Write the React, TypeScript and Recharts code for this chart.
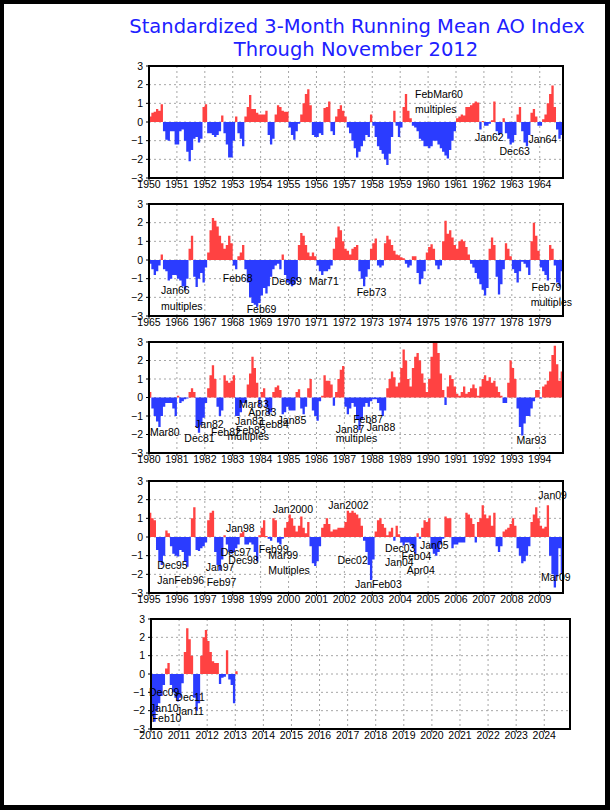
import React from 'react';
import { ComposedChart, Area, XAxis, YAxis, CartesianGrid, ReferenceArea, ReferenceDot } from 'recharts';

// Standardized 3-month running mean AO index, one value per month (Jan..Dec)
const ao1950to1964 = [
  0.3, 0.5, 0.55, 0.7, 0.6, 0.95, -0.5, -0.95, -1.0, -0.5, -0.5, -1.2,
  -1.2, -0.5, -0.4, -1.0, -1.6, -2.1, -1.5, -0.9, -0.8, -1.1, -0.9, 0.8,
  0.95, -0.6, -0.6, -0.7, -0.8, -0.7, -0.5, 0.35, -0.6, -1.2, -1.9, -1.9,
  -1.0, 0.3, -0.6, -0.9, -1.3, 0.3, 0.8, 1.45, 0.7, 0.7, 0.5, 0.4,
  0.4, 0.4, 0.6, -0.7, -1.2, -0.9, 0.4, 0.9, 0.8, 0.6, 0.55, 0.55,
  -0.3, -0.7, -0.95, -0.5, -0.1, 0.4, 1.0, 1.5, 1.75, 0.9, -0.7, -0.8,
  -0.8, -0.6, -0.7, 0.75, 0.8, 1.1, -0.5, -0.7, 0.3, 0.7, 0.9, 0.6,
  0.3, -0.3, -0.6, -1.0, -1.4, -1.9, -1.6, -1.3, -1.0, -0.7, -0.8, 0.4,
  -0.2, -0.8, -1.3, -1.5, -1.7, -2.0, -2.3, -1.7, -0.8, 0.6, -0.2, -0.8,
  -0.3, 0.8, 1.5, 0.6, 0.2, -0.2, -0.3, -0.5, -0.9, -1.0, -1.3, -1.3,
  -1.4, -1.3, -1.0, -1.0, -1.2, -1.4, -1.6, -1.8, -1.95, -1.5, -1.0, -0.5,
  0.2, 0.3, 0.4, 0.35, 0.8, 0.8, 0.9, 1.0, 1.1, 1.05, -0.4, 0.05,
  -0.2, -0.2, -0.1, 0.1, 1.1, -0.5, -0.7, -0.6, 0.2, -0.6, -0.9, -1.2,
  -1.1, -0.7, 0.4, 0.8, -0.5, -1.1, -1.3, -0.7, 0.5, 0.7, 0.3, -0.2,
  -0.2, 0.15, 0.4, 1.0, 1.5, 1.95, 0.8, -0.4, -0.9, -0.7, 0.1, 0.1,
];

const ao1965to1979 = [
  -0.2, -0.5, -0.8, -0.6, -0.3, 0.3, -0.5, -0.6, -1.1, -1.0, -0.8, -0.8,
  -1.0, -1.1, -1.4, -1.6, -1.0, 0.6, 1.3, -0.9, -1.45, -1.0, -0.7, -1.2,
  -0.4, 0.4, 1.6, 2.25, 2.1, 1.8, 1.3, 0.9, 0.6, 0.8, 1.3, 0.9,
  -0.3, -0.5, 0.2, 0.4, 0.8, -0.5, -1.2, -2.0, -2.3, -2.4, -2.5, -2.3,
  -1.9, -1.5, -1.8, -1.4, -0.9, -0.5, -0.3, -0.2, -0.5, 0.3, -0.8, -1.2,
  -1.3, -1.4, -1.3, -1.1, 0.8, 1.45, 1.3, 0.8, 0.4, 0.2, 0.4, 0.2,
  -0.3, -0.6, -0.8, -0.6, -0.6, -0.5, -0.3, 0.6, 1.2, 1.8, 1.6, 1.0,
  0.6, 0.5, 0.3, 0.6, 0.7, 0.8, -0.6, -1.0, -1.4, -0.9, -0.5, 0.6,
  0.9, 1.15, -0.3, -0.4, -0.3, 0.9, 1.3, 1.1, 0.8, 0.5, 0.3, 0.25,
  0.15, 0.1, -0.2, -0.4, -0.3, 0.2, 0.2, -0.7, -1.3, -1.0, -0.6, 0.4,
  0.7, 0.85, 0.6, -0.3, -0.5, -0.3, 1.0, 2.1, 1.4, 1.6, 1.2, 0.8,
  0.6, 1.0, 1.1, 1.0, 0.7, 0.3, -0.2, -0.4, -0.7, -1.0, -1.3, -1.6,
  -1.9, -1.5, 0.6, 1.2, 0.8, -0.9, -1.85, -1.3, -0.5, 0.9, 0.6, 0.2,
  -0.5, -0.7, -1.2, -0.6, -0.1, -0.2, -0.4, -0.8, 1.0, 2.0, 1.3, 0.5,
  -0.4, -0.6, -0.8, -1.1, 0.8, 0.6, -0.3, -1.2, -1.4, -0.6, -0.1, -0.1,
];

const ao1980to1994 = [
  0.3, -0.6, -1.0, -1.3, -1.6, -1.0, -0.5, -0.3, -0.3, -0.3, -0.6, -1.0,
  0.1, -0.3, -0.2, -0.1, -0.05, 0.3, 0.5, 0.3, -1.6, -1.9, -1.5, -1.1,
  -0.3, 0.5, 1.2, 1.75, 1.0, -0.5, -1.0, -0.7, 1.2, 0.9, 0.8, 0.9,
  1.2, -1.0, -1.0, -0.8, -0.3, -0.3, 0.7, 1.3, 2.2, 1.6, 0.8, -0.5,
  0.3, 0.5, -0.5, -0.9, -0.8, 0.3, 0.55, 0.65, 0.4, -0.9, -0.8, -0.5,
  -0.7, -0.7, -0.7, 0.3, 0.45, -0.6, -0.9, -0.5, 0.5, 1.0, -0.7, -1.0,
  -1.25, -0.2, 0.1, 1.2, 0.9, 0.9, 0.7, -0.45, 0.3, 1.0, 1.5, 1.7,
  -0.5, -0.9, -0.6, -0.3, -0.5, -1.2, -1.75, -1.2, -0.5, -0.3, -0.5, -0.2,
  -0.1, -0.1, -0.3, -0.7, -1.0, -0.7, 0.5, 1.0, 1.4, 1.1, 0.6, 0.8,
  1.6, 2.6, 2.0, 1.0, 0.6, 1.6, 2.2, 2.4, 2.0, 1.3, 0.8, 0.3,
  1.0, 2.2, 3.0, 3.0, 2.4, 1.3, 0.4, -0.4, 0.6, 1.2, 1.0, 0.6,
  0.2, 0.1, 0.3, 0.6, 0.2, 0.3, 0.5, 0.7, 0.5, 0.1, 0.6, 1.0,
  1.2, 0.9, 1.1, 0.8, 0.9, 0.6, 0.3, 0.1, -0.3, -0.3, 0.8, 2.0,
  1.6, 1.0, -0.6, -1.6, -2.05, -1.4, -1.0, -1.0, -0.6, -0.2, 0.4, 0.4,
  -0.05, 0.6, 0.7, 0.9, 1.4, 2.3, 2.8, 1.8, 0.9, 1.4, 1.4, 1.4,
];

const ao1995to2009 = [
  1.3, 1.0, 0.9, -0.7, -1.3, -1.5, -1.0, 0.35, 0.2, -0.5, -0.9, -1.0,
  -1.05, -0.7, -0.8, -1.3, -1.6, -1.0, 1.0, 1.6, -0.7, -0.75, -0.6, -0.5,
  -0.3, 0.9, 1.3, 1.4, -0.8, -1.5, -1.8, -1.2, 0.1, -0.4, -0.8, -0.9,
  -0.8, -0.6, -0.4, 0.2, 0.3, -0.4, -0.4, -0.3, -0.4, -0.8, -1.3, 0.1,
  0.5, 0.9, 0.05, -0.1, -0.2, 1.0, 0.9, -0.3, -0.4, -0.1, 0.5, 0.8,
  1.2, 1.0, 0.6, 0.3, 0.6, 1.1, 0.5, 0.2, 0.8, -0.5, -1.4, -1.55,
  -1.3, -0.5, 0.5, 0.7, 1.0, 0.7, 0.3, 0.4, 0.4, 0.5, 0.5, 0.5,
  0.8, 1.4, 1.3, 1.4, 1.3, 1.2, 1.0, 0.6, -0.2, -0.8, -1.5, -2.3,
  -1.2, 0.3, 0.9, 1.0, 0.7, 0.5, 0.1, 0.3, 0.5, -0.2, 0.6, 0.15,
  -0.3, -0.45, -0.3, -0.3, -0.4, -0.6, -0.9, 0.2, -0.1, 0.5, 0.9, 0.8,
  1.0, -0.6, -0.9, -1.0, -0.8, -0.4, -0.1, 1.1, 1.0, 1.0, -0.6, -0.4,
  -0.4, -0.3, -0.3, -0.3, 1.3, 1.2, 1.0, 0.7, -0.3, 0.8, 1.0, 1.7,
  1.2, 1.0, 1.15, 0.6, 1.3, -0.5, -0.8, -0.5, 0.3, 0.4, 0.5, 0.7,
  1.0, 0.6, -0.6, -1.0, -1.4, -1.3, -1.0, -0.5, 0.8, 1.2, 1.6, 1.0,
  0.6, 0.45, 0.55, 1.7, -1.0, -2.0, -2.7, -2.1, -0.6, -2.0, -2.0, -2.0,
];

const ao2010to2012 = [
  -2.3, -2.6, -2.0, -1.6, -1.2, -0.6, 0.3, 0.6, -0.6, -1.0, -1.3, -1.5,
  -1.3, -0.5, 1.2, 2.5, 1.9, 1.0, -1.3, -2.0, -1.6, 1.0, 2.0, 2.4,
  1.8, 1.2, 0.7, 0.6, 0.6, -0.55, -0.2, -0.15, 1.3, -0.3, -0.6, -1.6,
  0.15,
];

// Annotations: [month index from panel start, index value, text]
type Note = [number, number, string];
const notes1950: Note[] = [
  [114.4, 1.52, 'FebMar60'], [114.4, 0.71, 'multiples'], [140.2, -0.79, 'Jan62'],
  [150.7, -1.54, 'Dec63'], [163.2, -0.92, 'Jan64'],
];
const notes1965: Note[] = [
  [5.2, -1.62, 'Jan66'], [5.2, -2.44, 'multiples'], [31.7, -0.99, 'Feb68'],
  [42, -2.64, 'Feb69'], [52.7, -1.1, 'Dec69'], [68.8, -1.15, 'Mar71'],
  [89.3, -1.72, 'Feb73'], [164.5, -1.47, 'Feb79'], [164.1, -2.27, 'multiples'],
];
const notes1980: Note[] = [
  [0.4, -1.86, 'Mar80'], [15.2, -2.2, 'Dec81'], [19.8, -1.43, 'Jan82'],
  [26.7, -1.86, 'Feb82'], [38.7, -0.36, 'Mar83'], [42.7, -0.8, 'Apr83'],
  [37, -1.29, 'Jan83'], [47.3, -1.43, 'Feb84'], [55.3, -1.2, 'Jan85'],
  [37.4, -1.74, 'Feb83'], [33.8, -2.07, 'multiples'], [80.3, -1.68, 'Jan87'],
  [80.3, -2.2, 'multiples'], [87.8, -1.14, 'Feb87'], [93.6, -1.57, 'Jan88'],
  [158, -2.3, 'Mar93'],
];
const notes1995: Note[] = [
  [3.6, -1.5, 'Dec95'], [3.6, -2.3, 'JanFeb96'], [24.4, -1.62, 'Jan97'],
  [24.8, -2.39, 'Feb97'], [33.1, 0.46, 'Jan98'], [30.8, -0.79, 'Dec97'],
  [34.1, -1.23, 'Dec98'], [47.2, -0.64, 'Feb99'], [51.3, -0.97, 'Mar99'],
  [51.3, -1.77, 'Multiples'], [53.2, 1.5, 'Jan2000'], [77.1, 1.73, 'Jan2002'],
  [81, -1.23, 'Dec02'], [88.6, -2.52, 'JanFeb03'], [101.5, -0.6, 'Dec03'],
  [101.5, -1.36, 'Jan04'], [108.6, -1.0, 'Feb04'], [110.8, -1.77, 'Apr04'],
  [116.5, -0.43, 'Jan05'], [167.4, 2.23, 'Jan09'], [168.5, -2.14, 'Mar09'],
];
const notes2010: Note[] = [
  [-0.85, -0.97, 'Dec09'], [-0.4, -1.84, 'Jan10'], [0.3, -2.42, 'Feb10'],
  [10.4, -1.24, 'Dec11'], [10.7, -2.0, 'Jan11'],
];

const startYears = [1950, 1965, 1980, 1995, 2010];
const yTicks = [-3, -2, -1, 0, 1, 2, 3];
const monthTicks = [0, 12, 24, 36, 48, 60, 72, 84, 96, 108, 120, 132, 144, 156, 168];

const RED = '#ff4242';
const BLUE = '#2b3cff';
const FONT = "'Liberation Sans', Arial, Helvetica, sans-serif";

type PanelProps = {
  values: number[];
  startYear: number;
  top: number;
  left: number;
  right: number;
  plotH: number;
  xMax: number;
  notes: Note[];
};

function Panel({ values, startYear, top, left, right, plotH, xMax, notes }: PanelProps) {
  const data = values.map((v, i) => ({ x: i, pos: Math.max(v, 0), neg: Math.min(v, 0) }));
  const last = values[values.length - 1];
  data.push({ x: values.length, pos: Math.max(last, 0), neg: Math.min(last, 0) });
  const mTop = 10;
  const xAxisH = 20;
  const mBottom = 4;
  const yAxisW = 30;
  const H = mTop + plotH + xAxisH + mBottom;
  const tickStyle = { fill: '#000', fontSize: 10.5, fontFamily: FONT };
  return (
    <div style={{ position: 'absolute', left: 0, top: top - mTop }}>
      <ComposedChart
        width={610}
        height={H}
        data={data}
        margin={{ top: mTop, right: 610 - right, bottom: mBottom, left: left - yAxisW }}
      >
        <CartesianGrid stroke="#a6a6a6" strokeDasharray="2 3" />
        <XAxis
          dataKey="x"
          type="number"
          domain={[0, xMax]}
          ticks={monthTicks}
          interval={0}
          allowDataOverflow
          height={xAxisH}
          axisLine={false}
          tickLine={{ stroke: '#000' }}
          tickSize={3}
          tickMargin={0}
          tick={tickStyle}
          tickFormatter={(v: number) => String(startYear + v / 12)}
        />
        <YAxis
          type="number"
          domain={[-3, 3]}
          ticks={yTicks}
          interval={0}
          allowDataOverflow
          width={yAxisW}
          axisLine={false}
          tickLine={{ stroke: '#000' }}
          tickSize={3}
          tickMargin={3}
          tick={tickStyle}
          tickFormatter={(v: number) => (v < 0 ? '\u2212' + Math.abs(v) : String(v))}
        />
        <Area
          type="stepAfter"
          dataKey="pos"
          fill={RED}
          fillOpacity={1}
          stroke="none"
          baseValue={0}
          dot={false}
          activeDot={false}
          isAnimationActive={false}
        />
        <Area
          type="stepAfter"
          dataKey="neg"
          fill={BLUE}
          fillOpacity={1}
          stroke="none"
          baseValue={0}
          dot={false}
          activeDot={false}
          isAnimationActive={false}
        />
        <ReferenceArea
          x1={0}
          x2={xMax}
          y1={-3}
          y2={3}
          fill="none"
          fillOpacity={0}
          stroke="#000"
          strokeWidth={2}
          ifOverflow="visible"
        />
        {notes.map((n, i) => (
          <ReferenceDot
            key={i}
            x={n[0]}
            y={n[1]}
            r={1}
            ifOverflow="visible"
            shape={(p: any) => (
              <text
                x={p.cx}
                y={p.cy}
                dominantBaseline="central"
                fontSize={10.5}
                fontFamily={FONT}
                fill="#000"
              >
                {n[2]}
              </text>
            )}
          />
        ))}
      </ComposedChart>
    </div>
  );
}

export default function App() {
  return (
    <div
      style={{
        position: 'absolute',
        left: 0,
        top: 0,
        width: 610,
        height: 810,
        boxSizing: 'border-box',
        borderStyle: 'solid',
        borderColor: '#000',
        borderWidth: '4px 5px 5px 4px',
        background: '#fff',
        overflow: 'hidden',
      }}
    >
      <div style={{ position: 'absolute', left: -4, top: -4, width: 610, height: 810 }}>
        <svg width={610} height={64} style={{ position: 'absolute', left: 0, top: 0 }}>
          <text x={357} y={33} textAnchor="middle" fontSize={19.5} fontFamily="'DejaVu Sans', Verdana, sans-serif" fill="#2020ff">
            Standardized 3-Month Running Mean AO Index
          </text>
          <text x={356} y={56} textAnchor="middle" fontSize={19.5} fontFamily="'DejaVu Sans', Verdana, sans-serif" fill="#2020ff">
            Through November 2012
          </text>
        </svg>
        <Panel values={ao1950to1964} startYear={startYears[0]} top={66} left={149} right={563} plotH={112} xMax={178} notes={notes1950} />
        <Panel values={ao1965to1979} startYear={startYears[1]} top={204} left={149} right={563} plotH={112} xMax={178} notes={notes1965} />
        <Panel values={ao1980to1994} startYear={startYears[2]} top={342} left={149} right={563} plotH={111} xMax={178} notes={notes1980} />
        <Panel values={ao1995to2009} startYear={startYears[3]} top={481} left={149} right={563} plotH={112} xMax={178} notes={notes1995} />
        <Panel values={ao2010to2012} startYear={startYears[4]} top={619} left={151} right={570} plotH={110} xMax={179} notes={notes2010} />
      </div>
    </div>
  );
}
